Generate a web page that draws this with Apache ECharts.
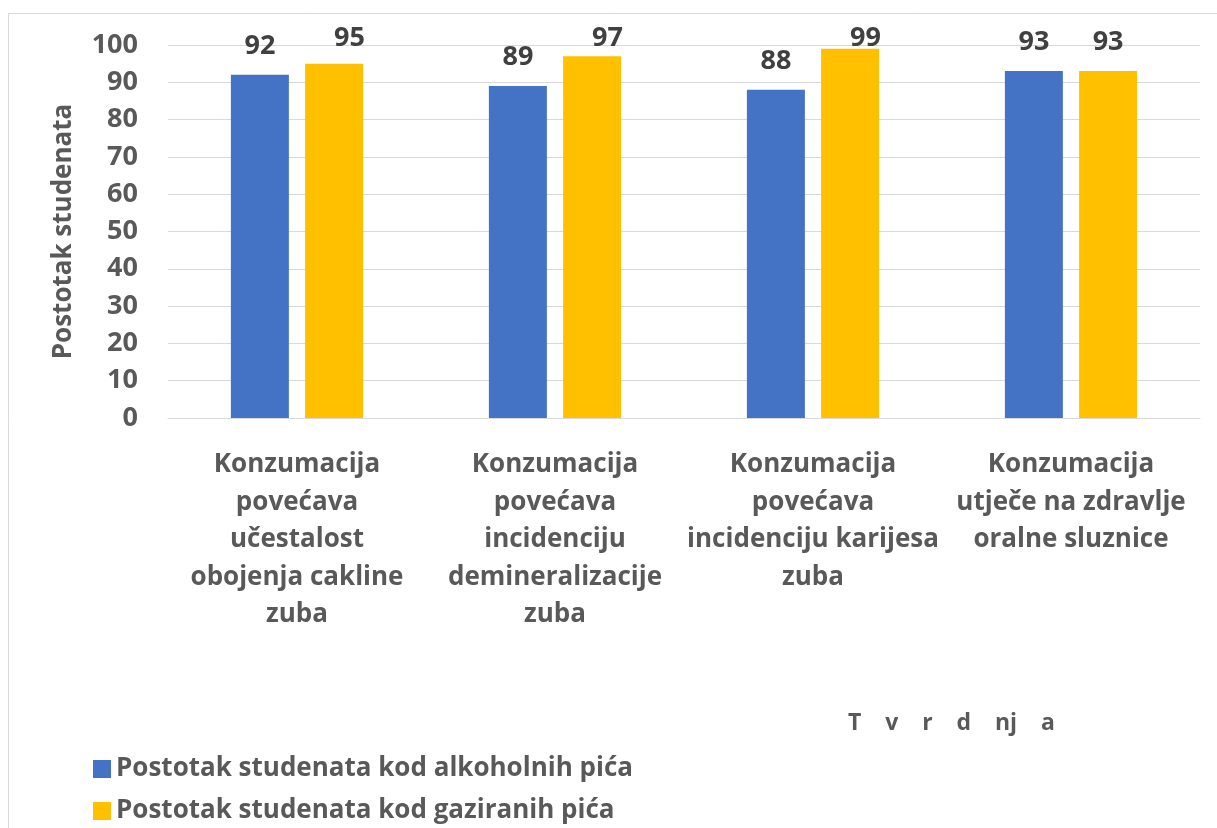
<!DOCTYPE html>
<html>
<head>
<meta charset="utf-8">
<script src="https://cdn.jsdelivr.net/npm/echarts@6/dist/echarts.min.js"></script>
<style>
  html, body { margin: 0; padding: 0; background: #fff; }
  #chart { width: 1217px; height: 828px; }
</style>
</head>
<body>
<div id="chart"></div>
<script>
// podaci
var categories = [
  'Konzumacija\npovećava\nučestalost\nobojenja cakline\nzuba',
  'Konzumacija\npovećava\nincidenciju\ndemineralizacije\nzuba',
  'Konzumacija\npovećava\nincidenciju karijesa\nzuba',
  'Konzumacija\nutječe na zdravlje\noralne sluznice'
];
var alkoholna = [92, 89, 88, 93];
var gazirana = [95, 97, 99, 93];
var seriesNames = ['Postotak studenata kod alkoholnih pića', 'Postotak studenata kod gaziranih pića'];

var font = 'Open Sans';
var chart = echarts.init(document.getElementById('chart'));

// oznake vrijednosti ne smiju izaci iznad vrha (kao u Excelu)
var labelTopLimit = 52;
function clampLabel(p) {
  var bottom = p.labelRect.y + p.labelRect.height;
  if (bottom < labelTopLimit) {
    return { y: p.labelRect.y + (labelTopLimit - bottom) };
  }
  return {};
}

var valueLabel = {
  show: true,
  position: 'top',
  distance: 15,
  fontFamily: font,
  fontSize: 27,
  fontWeight: 'bold',
  color: '#404040'
};

// legenda - svaka stavka u svom redu
function legendRow(name, top) {
  return {
    left: 88,
    top: top,
    itemWidth: 18,
    itemHeight: 18,
    icon: 'rect',
    data: [name],
    textStyle: { fontFamily: font, fontSize: 26, fontWeight: 'bold', color: '#595959' }
  };
}

var option = {
  animation: false,
  textStyle: { fontFamily: font },
  color: ['#4472C4', '#FFC000'],
  title: {
    text: 'T    v    r    d    nj    a',
    left: 843,
    top: 707,
    textStyle: { fontFamily: font, fontSize: 23, fontWeight: 'bold', color: '#595959' }
  },
  legend: [legendRow(seriesNames[0], 751), legendRow(seriesNames[1], 793)],
  graphic: [{
    type: 'rect',
    shape: { x: 8.5, y: 13.5, width: 1300, height: 900 },
    style: { fill: 'none', stroke: '#d9d9d9', lineWidth: 1 },
    silent: true
  }],
  grid: { left: 168, right: 17, top: 45, bottom: 410 },
  xAxis: {
    type: 'category',
    data: categories,
    axisLine: { show: true, lineStyle: { color: '#d9d9d9' } },
    axisTick: { show: false },
    axisLabel: {
      margin: 28,
      interval: 0,
      fontFamily: font,
      fontSize: 26,
      fontWeight: 'bold',
      color: '#595959',
      lineHeight: 37.5
    }
  },
  yAxis: {
    type: 'value',
    min: 0,
    max: 100,
    interval: 10,
    name: 'Postotak studenata',
    nameLocation: 'middle',
    nameGap: 91,
    nameTextStyle: { fontFamily: font, fontSize: 26, fontWeight: 'bold', color: '#595959' },
    axisLine: { show: false },
    axisTick: { show: false },
    splitLine: { lineStyle: { color: '#d9d9d9', width: 1 } },
    axisLabel: {
      margin: 30,
      fontFamily: font,
      fontSize: 27,
      fontWeight: 'bold',
      color: '#595959'
    }
  },
  series: [{
    name: seriesNames[0],
    type: 'bar',
    data: alkoholna,
    barWidth: 58,
    barGap: '28%',
    label: valueLabel,
    labelLayout: clampLabel
  }, {
    name: seriesNames[1],
    type: 'bar',
    data: gazirana,
    barWidth: 58,
    label: valueLabel,
    labelLayout: clampLabel
  }]
};

chart.setOption(option);
</script>
</body>
</html>
